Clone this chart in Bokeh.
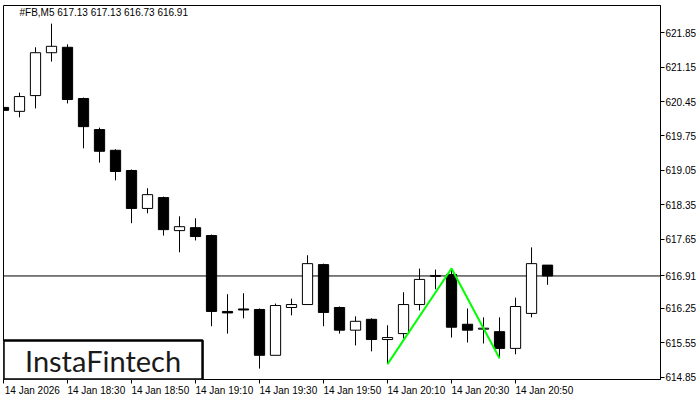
from bokeh.plotting import figure
from bokeh.models import (Range1d, FixedTicker, LinearAxis, Span, Label,
                          BoxAnnotation, PrintfTickFormatter, ColumnDataSource)
from bokeh.embed import file_html
from bokeh.resources import INLINE

# ---------------- data ----------------
symbol_title = "#FB,M5  617.13 617.13 616.73 616.91"

opens = [620.33, 620.25, 620.57, 621.44, 621.55, 620.51, 619.88, 619.46, 619.05, 618.28,
         618.50, 617.83, 617.89, 617.73, 616.19, 616.24, 616.23, 615.30, 616.27, 616.33,
         617.14, 616.27, 615.81, 616.03, 615.62, 615.74, 616.33, 616.90, 616.94, 615.93,
         615.83, 615.78, 615.44, 616.15, 617.13]
highs = [620.57, 620.63, 621.55, 622.03, 621.61, 620.53, 619.92, 619.48, 619.07, 618.69,
         618.52, 618.12, 618.08, 617.75, 616.54, 616.56, 616.25, 616.35, 616.45, 617.33,
         617.16, 616.29, 616.09, 616.05, 615.91, 616.58, 617.06, 617.04, 617.06, 616.25,
         616.07, 616.07, 616.47, 617.49, 617.13]
lows = [620.17, 620.13, 620.31, 621.26, 620.41, 619.50, 619.21, 618.85, 617.98, 618.18,
        617.73, 617.39, 617.63, 615.89, 615.74, 616.05, 615.03, 615.30, 616.11, 616.33,
        615.89, 615.74, 615.50, 615.38, 615.12, 615.64, 616.21, 616.64, 615.66, 615.56,
        615.54, 615.24, 615.32, 616.07, 616.73]
closes = [620.27, 620.55, 621.44, 621.57, 620.49, 619.94, 619.44, 619.03, 618.28, 618.56,
          617.85, 617.91, 617.71, 616.19, 616.16, 616.22, 615.30, 616.31, 616.33, 617.16,
          616.17, 615.81, 615.99, 615.62, 615.66, 616.33, 616.84, 616.92, 615.87, 615.81,
          615.85, 615.44, 616.29, 617.16, 616.91]
candle_index = list(range(len(opens)))

time_tick_index = [0, 4, 8, 12, 16, 20, 24, 28, 32]
time_tick_labels = ["14 Jan 2026", "14 Jan 18:30", "14 Jan 18:50", "14 Jan 19:10",
                    "14 Jan 19:30", "14 Jan 19:50", "14 Jan 20:10", "14 Jan 20:30",
                    "14 Jan 20:50"]
price_ticks = [614.85, 615.55, 616.25, 617.65, 618.35, 619.05, 619.75, 620.45, 621.15, 621.85]

pattern_index = [24, 28, 31]
pattern_price = [615.12, 617.06, 615.24]

logo_text = "InstaFintech"

# ---------------- layout constants ----------------
X0, X1 = 0.0, 41.06
Y0, Y1 = 614.809, 622.398
LABEL_SHIFT = 1.8
FONT = "Liberation Sans"

p = figure(width=700, height=400, x_range=Range1d(X0, X1), y_range=Range1d(Y0, Y1),
           y_axis_location="right", output_backend="svg", toolbar_location=None,
           min_border_left=3, min_border_top=5, min_border_bottom=21, min_border_right=40,
           background_fill_color="white", border_fill_color="white",
           outline_line_color="black", outline_line_width=1)
p.grid.visible = False

# right price axis (the current price is shown as an extra tick)
ya = p.yaxis[0]
ya.ticker = FixedTicker(ticks=sorted(price_ticks + [closes[-1]]))
ya.formatter = PrintfTickFormatter(format="%.2f")
ya.major_tick_out = 4
ya.major_tick_in = 0
ya.minor_tick_out = 0
ya.minor_tick_in = 0
ya.major_label_standoff = 1
ya.axis_line_color = "black"
ya.major_tick_line_color = "black"
ya.major_label_text_font = FONT
ya.major_label_text_font_size = "10px"
ya.major_label_text_color = "black"

# bottom axis: tick marks only
xa = p.xaxis[0]
xa.ticker = FixedTicker(ticks=time_tick_index)
xa.major_label_overrides = {t: "" for t in time_tick_index}
xa.major_label_text_font_size = "0px"
xa.major_label_standoff = 0
xa.major_tick_out = 4
xa.major_tick_in = 0
xa.minor_tick_out = 0
xa.minor_tick_in = 0
xa.axis_line_color = "black"
xa.major_tick_line_color = "black"

# bottom axis: labels, left-aligned at the ticks via a shifted range
p.extra_x_ranges = {"lbl": Range1d(X0 - LABEL_SHIFT, X1 - LABEL_SHIFT)}
xl = LinearAxis(x_range_name="lbl", ticker=FixedTicker(ticks=time_tick_index),
                major_label_overrides={t: s for t, s in zip(time_tick_index, time_tick_labels)},
                axis_line_color=None, major_tick_line_color=None, minor_tick_line_color=None,
                major_tick_out=0, major_tick_in=0, minor_tick_out=0, minor_tick_in=0,
                major_label_standoff=1, major_label_text_font=FONT,
                major_label_text_font_size="10px", major_label_text_color="black")
p.add_layout(xl, "below")

# current price line (behind candles)
p.add_layout(Span(location=closes[-1], dimension="width", line_color="black",
                  line_width=1, level="underlay"))

# candles
tops = [max(o, c) for o, c in zip(opens, closes)]
bottoms = [min(o, c) for o, c in zip(opens, closes)]
fills = ["white" if c > o else "black" for o, c in zip(opens, closes)]
src = ColumnDataSource(dict(x=candle_index, h=highs, l=lows, top=tops, bottom=bottoms, fill=fills))
p.segment(x0="x", y0="l", x1="x", y1="h", source=src, line_color="black", line_width=1)
p.vbar(x="x", width=0.64, top="top", bottom="bottom", fill_color="fill",
       line_color="black", line_width=1, source=src)

# double-bottom pattern
p.line(pattern_index, pattern_price, line_color="#00ff00", line_width=2)

# title text
p.add_layout(Label(x=X0, y=Y1, x_offset=16, y_offset=-1, text=symbol_title,
                   text_align="left", text_baseline="top", text_font=FONT,
                   text_font_size="10px", text_color="black"))

# logo
LOGO_RIGHT, LOGO_TOP = 12.44, 615.60
p.add_layout(BoxAnnotation(left=X0, right=LOGO_RIGHT, top=LOGO_TOP, bottom=Y0,
                           fill_color="white", fill_alpha=1.0,
                           line_color="black", line_alpha=1.0, line_width=2.5))
p.add_layout(Label(x=(X0 + LOGO_RIGHT) / 2, y=(LOGO_TOP + Y0) / 2, text=logo_text,
                   text_align="center", text_baseline="middle", text_font="Lato",
                   text_font_size="29px", text_color="#1a1a1a"))

open("out.html", "w").write(file_html(p, INLINE))
